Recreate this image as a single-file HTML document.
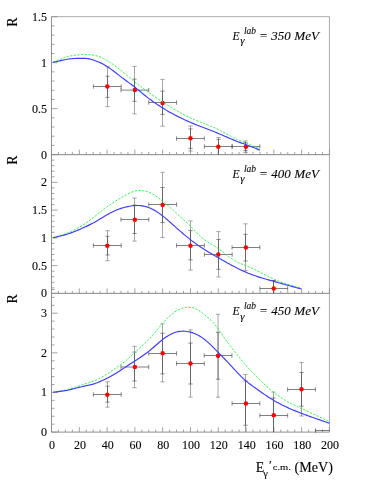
<!DOCTYPE html>
<html><head><meta charset="utf-8"><title>R vs E</title>
<style>
html,body{margin:0;padding:0;background:#fff;}
body{width:374px;height:484px;overflow:hidden;position:relative;font-family:"Liberation Serif",serif;}
</style></head><body>
<svg width="374" height="484" viewBox="0 0 374 484" style="display:block;position:absolute;left:0;top:0">
<rect x="0" y="0" width="374" height="484" fill="#fff"/>
<path d="M51.5 16.7 H329.45 V154.6" fill="none" stroke="#959595" stroke-width="0.8"/>
<path d="M51.5 16.7 V154.6 H329.45" fill="none" stroke="#7c7c7c" stroke-width="0.85"/>
<path d="M51.5 154.6h6M51.5 145.41h3M51.5 136.21h3M51.5 127.02h3M51.5 117.83h3M51.5 108.63h6M51.5 99.44h3M51.5 90.25h3M51.5 81.05h3M51.5 71.86h3M51.5 62.67h6M51.5 53.47h3M51.5 44.28h3M51.5 35.09h3M51.5 25.89h3M51.5 16.7h6" fill="none" stroke="#8c8c8c" stroke-width="0.8"/>
<path d="M51.5 154.6v-5M58.45 154.6v-2.6M65.4 154.6v-2.6M72.35 154.6v-2.6M79.3 154.6v-5M86.24 154.6v-2.6M93.19 154.6v-2.6M100.14 154.6v-2.6M107.09 154.6v-5M114.04 154.6v-2.6M120.99 154.6v-2.6M127.94 154.6v-2.6M134.88 154.6v-5M141.83 154.6v-2.6M148.78 154.6v-2.6M155.73 154.6v-2.6M162.68 154.6v-5M169.63 154.6v-2.6M176.58 154.6v-2.6M183.53 154.6v-2.6M190.47 154.6v-5M197.42 154.6v-2.6M204.37 154.6v-2.6M211.32 154.6v-2.6M218.27 154.6v-5M225.22 154.6v-2.6M232.17 154.6v-2.6M239.12 154.6v-2.6M246.06 154.6v-5M253.01 154.6v-2.6M259.96 154.6v-2.6M266.91 154.6v-2.6M273.86 154.6v-5M280.81 154.6v-2.6M287.76 154.6v-2.6M294.71 154.6v-2.6M301.65 154.6v-5M308.6 154.6v-2.6M315.55 154.6v-2.6M322.5 154.6v-2.6M329.45 154.6v-5" fill="none" stroke="#8c8c8c" stroke-width="0.8"/>
<path d="M51.5 154.6 H329.45 V293.4" fill="none" stroke="#959595" stroke-width="0.8"/>
<path d="M51.5 154.6 V293.4 H329.45" fill="none" stroke="#7c7c7c" stroke-width="0.85"/>
<path d="M51.5 293.4h6M51.5 287.85h3M51.5 282.3h3M51.5 276.74h3M51.5 271.19h3M51.5 265.64h6M51.5 260.09h3M51.5 254.54h3M51.5 248.98h3M51.5 243.43h3M51.5 237.88h6M51.5 232.33h3M51.5 226.78h3M51.5 221.22h3M51.5 215.67h3M51.5 210.12h6M51.5 204.57h3M51.5 199.02h3M51.5 193.46h3M51.5 187.91h3M51.5 182.36h6M51.5 176.81h3M51.5 171.26h3M51.5 165.7h3M51.5 160.15h3M51.5 154.6h6" fill="none" stroke="#8c8c8c" stroke-width="0.8"/>
<path d="M51.5 293.4v-5M58.45 293.4v-2.6M65.4 293.4v-2.6M72.35 293.4v-2.6M79.3 293.4v-5M86.24 293.4v-2.6M93.19 293.4v-2.6M100.14 293.4v-2.6M107.09 293.4v-5M114.04 293.4v-2.6M120.99 293.4v-2.6M127.94 293.4v-2.6M134.88 293.4v-5M141.83 293.4v-2.6M148.78 293.4v-2.6M155.73 293.4v-2.6M162.68 293.4v-5M169.63 293.4v-2.6M176.58 293.4v-2.6M183.53 293.4v-2.6M190.47 293.4v-5M197.42 293.4v-2.6M204.37 293.4v-2.6M211.32 293.4v-2.6M218.27 293.4v-5M225.22 293.4v-2.6M232.17 293.4v-2.6M239.12 293.4v-2.6M246.06 293.4v-5M253.01 293.4v-2.6M259.96 293.4v-2.6M266.91 293.4v-2.6M273.86 293.4v-5M280.81 293.4v-2.6M287.76 293.4v-2.6M294.71 293.4v-2.6M301.65 293.4v-5M308.6 293.4v-2.6M315.55 293.4v-2.6M322.5 293.4v-2.6M329.45 293.4v-5" fill="none" stroke="#8c8c8c" stroke-width="0.8"/>
<path d="M51.5 293.4 H329.45 V432.1" fill="none" stroke="#959595" stroke-width="0.8"/>
<path d="M51.5 293.4 V432.1 H329.45" fill="none" stroke="#7c7c7c" stroke-width="0.85"/>
<path d="M51.5 432.1h6M51.5 424.17h3M51.5 416.25h3M51.5 408.32h3M51.5 400.4h3M51.5 392.47h6M51.5 384.55h3M51.5 376.62h3M51.5 368.69h3M51.5 360.77h3M51.5 352.84h6M51.5 344.92h3M51.5 336.99h3M51.5 329.07h3M51.5 321.14h3M51.5 313.21h6M51.5 305.29h3M51.5 297.36h3M51.5 289.44h3" fill="none" stroke="#8c8c8c" stroke-width="0.8"/>
<path d="M51.5 432.1v-5M58.45 432.1v-2.6M65.4 432.1v-2.6M72.35 432.1v-2.6M79.3 432.1v-5M86.24 432.1v-2.6M93.19 432.1v-2.6M100.14 432.1v-2.6M107.09 432.1v-5M114.04 432.1v-2.6M120.99 432.1v-2.6M127.94 432.1v-2.6M134.88 432.1v-5M141.83 432.1v-2.6M148.78 432.1v-2.6M155.73 432.1v-2.6M162.68 432.1v-5M169.63 432.1v-2.6M176.58 432.1v-2.6M183.53 432.1v-2.6M190.47 432.1v-5M197.42 432.1v-2.6M204.37 432.1v-2.6M211.32 432.1v-2.6M218.27 432.1v-5M225.22 432.1v-2.6M232.17 432.1v-2.6M239.12 432.1v-2.6M246.06 432.1v-5M253.01 432.1v-2.6M259.96 432.1v-2.6M266.91 432.1v-2.6M273.86 432.1v-5M280.81 432.1v-2.6M287.76 432.1v-2.6M294.71 432.1v-2.6M301.65 432.1v-5M308.6 432.1v-2.6M315.55 432.1v-2.6M322.5 432.1v-2.6M329.45 432.1v-5" fill="none" stroke="#8c8c8c" stroke-width="0.8"/>
<path d="M107.5 66.8V106.7M134.5 66.4V113.9M162.5 79.4V126.2M190.5 126V151M218.5 137.5V154.6M245.5 140.9V152.5" fill="none" stroke="#6c6c6c" stroke-width="0.6"/>
<path d="M105.3 66.8h4.4M105.3 106.7h4.4M132.3 66.4h4.4M132.3 113.9h4.4M160.3 79.4h4.4M160.3 126.2h4.4M188.3 126h4.4M188.3 151h4.4M216.3 137.5h4.4M243.3 140.9h4.4M243.3 152.5h4.4" fill="none" stroke="#707070" stroke-width="0.6"/>
<path d="M107.5 76.2V97.4M134.5 79.1V101.3M162.5 91.1V114.4M190.5 128.9V148.4M218.5 139.4V154.6M245.5 142.7V150.6" fill="none" stroke="#3a3a3a" stroke-width="0.6"/>
<path d="M105.3 76.2h4.4M105.3 97.4h4.4M132.3 79.1h4.4M132.3 101.3h4.4M160.3 91.1h4.4M160.3 114.4h4.4M188.3 128.9h4.4M188.3 148.4h4.4M216.3 139.4h4.4M243.3 142.7h4.4M243.3 150.6h4.4" fill="none" stroke="#4a4a4a" stroke-width="0.6"/>
<path d="M93.4 86.5H121.2M120.95 90.1H148.75M148.75 102.5H176.55M176.55 138.5H204.35M204.4 146.5H232.2M232.05 146.5H259.85" fill="none" stroke="#2a2a2a" stroke-width="0.6"/>
<path d="M93.4 84.3v4.4M121.2 84.3v4.4M120.95 87.9v4.4M148.75 87.9v4.4M148.75 100.3v4.4M176.55 100.3v4.4M176.55 136.3v4.4M204.35 136.3v4.4M204.4 144.3v4.4M232.2 144.3v4.4M232.05 144.3v4.4M259.85 144.3v4.4" fill="none" stroke="#3a3a3a" stroke-width="0.6"/>
<circle cx="107.3" cy="86.6" r="2.25" fill="#ff0000"/>
<circle cx="134.85" cy="90.1" r="2.25" fill="#ff0000"/>
<circle cx="162.65" cy="102.9" r="2.25" fill="#ff0000"/>
<circle cx="190.45" cy="138.3" r="2.25" fill="#ff0000"/>
<circle cx="218.3" cy="146.7" r="2.25" fill="#ff0000"/>
<circle cx="245.95" cy="146.7" r="2.25" fill="#ff0000"/>
<path d="M107.5 230.7V260.7M134.5 198V241.1M162.5 172.3V237.5M190.5 221V270.1M218.5 231.6V277M245.5 223.8V270.6M273.5 280.5V293.4" fill="none" stroke="#6c6c6c" stroke-width="0.6"/>
<path d="M105.3 230.7h4.4M105.3 260.7h4.4M132.3 198h4.4M132.3 241.1h4.4M160.3 172.3h4.4M160.3 237.5h4.4M188.3 221h4.4M188.3 270.1h4.4M216.3 231.6h4.4M216.3 277h4.4M243.3 223.8h4.4M243.3 270.6h4.4M271.3 280.5h4.4" fill="none" stroke="#707070" stroke-width="0.6"/>
<path d="M107.5 236.3V255M134.5 205.1V233.5M162.5 187.5V222.6M190.5 230.6V259.9M218.5 239.5V269.3M245.5 234.3V261M273.5 280.5V293.4" fill="none" stroke="#3a3a3a" stroke-width="0.6"/>
<path d="M105.3 236.3h4.4M105.3 255h4.4M132.3 205.1h4.4M132.3 233.5h4.4M160.3 187.5h4.4M160.3 222.6h4.4M188.3 230.6h4.4M188.3 259.9h4.4M216.3 239.5h4.4M216.3 269.3h4.4M243.3 234.3h4.4M243.3 261h4.4M271.3 280.5h4.4" fill="none" stroke="#4a4a4a" stroke-width="0.6"/>
<path d="M93.4 245.5H121.2M120.95 219.5H148.75M148.75 204.5H176.55M176.55 245.5H204.35M204.4 254.5H232.2M232.05 247.5H259.85M259.85 288.5H287.65" fill="none" stroke="#2a2a2a" stroke-width="0.6"/>
<path d="M93.4 243.3v4.4M121.2 243.3v4.4M120.95 217.3v4.4M148.75 217.3v4.4M148.75 202.3v4.4M176.55 202.3v4.4M176.55 243.3v4.4M204.35 243.3v4.4M204.4 252.3v4.4M232.2 252.3v4.4M232.05 245.3v4.4M259.85 245.3v4.4M259.85 286.3v4.4M287.65 286.3v4.4" fill="none" stroke="#3a3a3a" stroke-width="0.6"/>
<circle cx="107.3" cy="245.7" r="2.25" fill="#ff0000"/>
<circle cx="134.85" cy="219.7" r="2.25" fill="#ff0000"/>
<circle cx="162.65" cy="204.9" r="2.25" fill="#ff0000"/>
<circle cx="190.45" cy="245.7" r="2.25" fill="#ff0000"/>
<circle cx="218.3" cy="254.6" r="2.25" fill="#ff0000"/>
<circle cx="245.95" cy="247.6" r="2.25" fill="#ff0000"/>
<circle cx="273.75" cy="288.5" r="2.25" fill="#ff0000"/>
<path d="M107.5 381.8V407.2M134.5 346.3V387.7M162.5 323.9V381.9M190.5 329.8V397.1M218.05 314.3V397.2M245.5 374.6V432.1M273.5 392.1V432.1M301.5 362.5V416" fill="none" stroke="#6c6c6c" stroke-width="0.6"/>
<path d="M105.3 381.8h4.4M105.3 407.2h4.4M132.3 346.3h4.4M132.3 387.7h4.4M160.3 323.9h4.4M160.3 381.9h4.4M188.3 329.8h4.4M188.3 397.1h4.4M215.85 314.3h4.4M215.85 397.2h4.4M243.3 374.6h4.4M271.3 392.1h4.4M299.3 362.5h4.4M299.3 416h4.4" fill="none" stroke="#707070" stroke-width="0.6"/>
<path d="M107.5 386.1V402.1M134.5 352.1V381M162.5 333.2V373.9M190.5 343.1V384M218.05 332.4V379.2M245.5 380.8V425.3M273.5 398V432.1M301.5 372.5V406.2" fill="none" stroke="#3a3a3a" stroke-width="0.6"/>
<path d="M105.3 386.1h4.4M105.3 402.1h4.4M132.3 352.1h4.4M132.3 381h4.4M160.3 333.2h4.4M160.3 373.9h4.4M188.3 343.1h4.4M188.3 384h4.4M215.85 332.4h4.4M215.85 379.2h4.4M243.3 380.8h4.4M243.3 425.3h4.4M271.3 398h4.4M299.3 372.5h4.4M299.3 406.2h4.4" fill="none" stroke="#4a4a4a" stroke-width="0.6"/>
<path d="M93.4 394.5H121.2M120.95 367H148.75M148.75 353.5H176.55M176.55 363.5H204.35M204.15 355.5H231.95M232.05 403.5H259.85M259.85 415.5H287.65M287.6 389.5H315.4M315.5 430.5H329.45" fill="none" stroke="#2a2a2a" stroke-width="0.6"/>
<path d="M93.4 392.3v4.4M121.2 392.3v4.4M120.95 364.8v4.4M148.75 364.8v4.4M148.75 351.3v4.4M176.55 351.3v4.4M176.55 361.3v4.4M204.35 361.3v4.4M204.15 353.3v4.4M231.95 353.3v4.4M232.05 401.3v4.4M259.85 401.3v4.4M259.85 413.3v4.4M287.65 413.3v4.4M287.6 387.3v4.4M315.4 387.3v4.4M315.5 428.3v4.4" fill="none" stroke="#3a3a3a" stroke-width="0.6"/>
<circle cx="107.3" cy="394.7" r="2.25" fill="#ff0000"/>
<circle cx="134.85" cy="367" r="2.25" fill="#ff0000"/>
<circle cx="162.65" cy="353.3" r="2.25" fill="#ff0000"/>
<circle cx="190.45" cy="363.4" r="2.25" fill="#ff0000"/>
<circle cx="218.05" cy="355.8" r="2.25" fill="#ff0000"/>
<circle cx="245.95" cy="403.4" r="2.25" fill="#ff0000"/>
<circle cx="273.75" cy="415.2" r="2.25" fill="#ff0000"/>
<circle cx="301.5" cy="389.2" r="2.25" fill="#ff0000"/>
<path d="M53 62.1 L54.3 61.61 L55.6 61.11 L56.9 60.61 L58.19 60.11 L59.49 59.6 L60.79 59.08 L62.09 58.56 L63.39 58.06 L64.69 57.57 L65.99 57.13 L67.29 56.74 L68.58 56.4 L69.88 56.1 L71.18 55.84 L72.48 55.62 L73.78 55.42 L75.08 55.24 L76.38 55.08 L77.68 54.93 L78.97 54.8 L80.27 54.69 L81.57 54.59 L82.87 54.5 L84.17 54.43 L85.47 54.4 L86.77 54.41 L88.07 54.46 L89.36 54.56 L90.66 54.7 L91.96 54.88 L93.26 55.1 L94.56 55.36 L95.86 55.67 L97.16 56.03 L98.46 56.44 L99.75 56.91 L101.05 57.43 L102.35 58 L103.65 58.63 L104.95 59.3 L106.25 60.02 L107.55 60.79 L108.85 61.59 L110.14 62.43 L111.44 63.31 L112.74 64.22 L114.04 65.15 L115.34 66.12 L116.64 67.1 L117.94 68.1 L119.24 69.13 L120.53 70.16 L121.83 71.21 L123.13 72.26 L124.43 73.33 L125.73 74.39 L127.03 75.47 L128.33 76.54 L129.63 77.61 L130.92 78.68 L132.22 79.75 L133.52 80.82 L134.82 81.87 L136.12 82.92 L137.42 83.96 L138.72 84.99 L140.02 86.01 L141.31 87.01 L142.61 88.01 L143.91 88.99 L145.21 89.96 L146.51 90.91 L147.81 91.85 L149.11 92.77 L150.41 93.69 L151.7 94.59 L153 95.48 L154.3 96.36 L155.6 97.24 L156.9 98.1 L158.2 98.96 L159.5 99.82 L160.8 100.66 L162.09 101.51 L163.39 102.35 L164.69 103.19 L165.99 104.02 L167.29 104.85 L168.59 105.67 L169.89 106.48 L171.19 107.29 L172.48 108.09 L173.78 108.88 L175.08 109.67 L176.38 110.44 L177.68 111.2 L178.98 111.95 L180.28 112.69 L181.58 113.41 L182.87 114.12 L184.17 114.81 L185.47 115.49 L186.77 116.16 L188.07 116.8 L189.37 117.43 L190.67 118.04 L191.97 118.63 L193.26 119.2 L194.56 119.76 L195.86 120.3 L197.16 120.83 L198.46 121.36 L199.76 121.87 L201.06 122.38 L202.36 122.89 L203.65 123.39 L204.95 123.9 L206.25 124.4 L207.55 124.91 L208.85 125.43 L210.15 125.96 L211.45 126.5 L212.75 127.05 L214.04 127.61 L215.34 128.19 L216.64 128.79 L217.94 129.41 L219.24 130.05 L220.54 130.71 L221.84 131.39 L223.14 132.07 L224.43 132.76 L225.73 133.46 L227.03 134.16 L228.33 134.86 L229.63 135.56 L230.93 136.25 L232.23 136.93 L233.53 137.59 L234.82 138.24 L236.12 138.87 L237.42 139.48 L238.72 140.06 L240.02 140.61 L241.32 141.13 L242.62 141.63 L243.92 142.12 L245.21 142.61 L246.51 143.12 L247.81 143.63 L249.11 144.16 L250.41 144.7 L251.71 145.26 L253.01 145.82 L254.31 146.38 L255.6 146.96 L256.9 147.54 L258.2 148.12 L259.5 148.7" fill="none" stroke="#28f048" stroke-width="0.95" stroke-dasharray="2.2 1.45"/>
<path d="M53 237.7 L54.56 237.25 L56.12 236.79 L57.68 236.33 L59.25 235.86 L60.81 235.37 L62.37 234.85 L63.93 234.32 L65.49 233.76 L67.05 233.16 L68.62 232.53 L70.18 231.87 L71.74 231.16 L73.3 230.42 L74.86 229.64 L76.42 228.83 L77.99 227.97 L79.55 227.08 L81.11 226.14 L82.67 225.18 L84.23 224.17 L85.79 223.13 L87.36 222.06 L88.92 220.96 L90.48 219.82 L92.04 218.65 L93.6 217.45 L95.16 216.21 L96.73 214.94 L98.29 213.66 L99.85 212.38 L101.41 211.11 L102.97 209.87 L104.53 208.67 L106.1 207.52 L107.66 206.41 L109.22 205.33 L110.78 204.28 L112.34 203.24 L113.9 202.21 L115.47 201.2 L117.03 200.21 L118.59 199.24 L120.15 198.29 L121.71 197.38 L123.27 196.48 L124.84 195.6 L126.4 194.75 L127.96 193.92 L129.52 193.15 L131.08 192.44 L132.64 191.82 L134.21 191.31 L135.77 190.92 L137.33 190.66 L138.89 190.52 L140.45 190.49 L142.01 190.58 L143.57 190.78 L145.14 191.08 L146.7 191.5 L148.26 192.02 L149.82 192.65 L151.38 193.39 L152.94 194.23 L154.51 195.17 L156.07 196.2 L157.63 197.3 L159.19 198.46 L160.75 199.67 L162.31 200.92 L163.88 202.21 L165.44 203.51 L167 204.84 L168.56 206.19 L170.12 207.55 L171.68 208.93 L173.25 210.32 L174.81 211.71 L176.37 213.11 L177.93 214.52 L179.49 215.92 L181.05 217.34 L182.62 218.76 L184.18 220.21 L185.74 221.67 L187.3 223.16 L188.86 224.67 L190.42 226.22 L191.99 227.81 L193.55 229.41 L195.11 231.01 L196.67 232.6 L198.23 234.15 L199.79 235.65 L201.36 237.08 L202.92 238.43 L204.48 239.66 L206.04 240.8 L207.6 241.85 L209.16 242.85 L210.73 243.8 L212.29 244.74 L213.85 245.68 L215.41 246.64 L216.97 247.64 L218.53 248.7 L220.09 249.84 L221.66 251.02 L223.22 252.25 L224.78 253.49 L226.34 254.74 L227.9 255.97 L229.46 257.17 L231.03 258.32 L232.59 259.4 L234.15 260.4 L235.71 261.29 L237.27 262.09 L238.83 262.8 L240.4 263.46 L241.96 264.08 L243.52 264.67 L245.08 265.28 L246.64 265.9 L248.2 266.56 L249.77 267.25 L251.33 267.97 L252.89 268.71 L254.45 269.47 L256.01 270.25 L257.57 271.04 L259.14 271.83 L260.7 272.64 L262.26 273.44 L263.82 274.24 L265.38 275.04 L266.94 275.83 L268.51 276.61 L270.07 277.37 L271.63 278.11 L273.19 278.83 L274.75 279.52 L276.31 280.18 L277.88 280.82 L279.44 281.43 L281 282.02 L282.56 282.6 L284.12 283.15 L285.68 283.68 L287.25 284.2 L288.81 284.7 L290.37 285.19 L291.93 285.67 L293.49 286.14 L295.05 286.6 L296.62 287.06 L298.18 287.51 L299.74 287.95 L301.3 288.4" fill="none" stroke="#28f048" stroke-width="0.95" stroke-dasharray="2.2 1.45"/>
<path d="M53 392.1 L54.74 391.86 L56.48 391.61 L58.22 391.35 L59.95 391.08 L61.69 390.78 L63.43 390.45 L65.17 390.08 L66.91 389.68 L68.65 389.23 L70.39 388.73 L72.13 388.19 L73.86 387.63 L75.6 387.05 L77.34 386.46 L79.08 385.87 L80.82 385.29 L82.56 384.73 L84.3 384.18 L86.03 383.64 L87.77 383.09 L89.51 382.53 L91.25 381.93 L92.99 381.3 L94.73 380.61 L96.47 379.87 L98.21 379.06 L99.94 378.19 L101.68 377.26 L103.42 376.28 L105.16 375.23 L106.9 374.14 L108.64 372.99 L110.38 371.81 L112.12 370.61 L113.85 369.39 L115.59 368.17 L117.33 366.95 L119.07 365.74 L120.81 364.51 L122.55 363.24 L124.29 361.92 L126.02 360.51 L127.76 359.02 L129.5 357.42 L131.24 355.78 L132.98 354.11 L134.72 352.46 L136.46 350.87 L138.2 349.32 L139.93 347.8 L141.67 346.28 L143.41 344.73 L145.15 343.15 L146.89 341.49 L148.63 339.75 L150.37 337.9 L152.1 335.93 L153.84 333.87 L155.58 331.76 L157.32 329.61 L159.06 327.48 L160.8 325.38 L162.54 323.35 L164.28 321.41 L166.01 319.55 L167.75 317.8 L169.49 316.16 L171.23 314.64 L172.97 313.26 L174.71 312.01 L176.45 310.91 L178.18 309.94 L179.92 309.12 L181.66 308.45 L183.4 307.92 L185.14 307.54 L186.88 307.3 L188.62 307.2 L190.36 307.25 L192.09 307.47 L193.83 307.91 L195.57 308.6 L197.31 309.53 L199.05 310.65 L200.79 311.9 L202.53 313.24 L204.27 314.6 L206 315.96 L207.74 317.38 L209.48 318.88 L211.22 320.51 L212.96 322.3 L214.7 324.29 L216.44 326.5 L218.17 328.88 L219.91 331.36 L221.65 333.9 L223.39 336.44 L225.13 338.92 L226.87 341.32 L228.61 343.66 L230.35 345.96 L232.08 348.24 L233.82 350.5 L235.56 352.75 L237.3 354.96 L239.04 357.14 L240.78 359.28 L242.52 361.38 L244.25 363.43 L245.99 365.42 L247.73 367.35 L249.47 369.23 L251.21 371.08 L252.95 372.89 L254.69 374.68 L256.43 376.46 L258.16 378.22 L259.9 379.96 L261.64 381.68 L263.38 383.37 L265.12 385.02 L266.86 386.64 L268.6 388.2 L270.33 389.72 L272.07 391.17 L273.81 392.57 L275.55 393.9 L277.29 395.16 L279.03 396.37 L280.77 397.52 L282.51 398.63 L284.24 399.69 L285.98 400.7 L287.72 401.68 L289.46 402.62 L291.2 403.53 L292.94 404.42 L294.68 405.29 L296.42 406.13 L298.15 406.97 L299.89 407.79 L301.63 408.61 L303.37 409.42 L305.11 410.24 L306.85 411.05 L308.59 411.86 L310.32 412.67 L312.06 413.48 L313.8 414.28 L315.54 415.09 L317.28 415.89 L319.02 416.69 L320.76 417.5 L322.5 418.3 L324.23 419.1 L325.97 419.9 L327.71 420.7 L329.45 421.5" fill="none" stroke="#28f048" stroke-width="0.95" stroke-dasharray="2.2 1.45"/>
<path d="M53 62.3 L54.3 62.03 L55.6 61.76 L56.9 61.48 L58.21 61.2 L59.51 60.91 L60.81 60.62 L62.11 60.32 L63.41 60.02 L64.71 59.74 L66.01 59.47 L67.31 59.24 L68.62 59.03 L69.92 58.85 L71.22 58.7 L72.52 58.59 L73.82 58.5 L75.12 58.45 L76.42 58.42 L77.72 58.41 L79.03 58.41 L80.33 58.41 L81.63 58.4 L82.93 58.38 L84.23 58.37 L85.53 58.4 L86.83 58.48 L88.13 58.65 L89.44 58.91 L90.74 59.24 L92.04 59.63 L93.34 60.05 L94.64 60.49 L95.94 60.95 L97.24 61.44 L98.54 61.96 L99.85 62.53 L101.15 63.14 L102.45 63.8 L103.75 64.5 L105.05 65.24 L106.35 66.03 L107.65 66.87 L108.95 67.74 L110.26 68.65 L111.56 69.6 L112.86 70.57 L114.16 71.56 L115.46 72.56 L116.76 73.57 L118.06 74.59 L119.36 75.6 L120.67 76.61 L121.97 77.6 L123.27 78.58 L124.57 79.54 L125.87 80.5 L127.17 81.45 L128.47 82.4 L129.77 83.36 L131.08 84.32 L132.38 85.3 L133.68 86.29 L134.98 87.3 L136.28 88.34 L137.58 89.4 L138.88 90.47 L140.18 91.54 L141.49 92.62 L142.79 93.7 L144.09 94.76 L145.39 95.81 L146.69 96.84 L147.99 97.85 L149.29 98.84 L150.59 99.81 L151.9 100.76 L153.2 101.69 L154.5 102.61 L155.8 103.5 L157.1 104.39 L158.4 105.25 L159.7 106.1 L161 106.94 L162.31 107.75 L163.61 108.56 L164.91 109.35 L166.21 110.13 L167.51 110.89 L168.81 111.64 L170.11 112.38 L171.41 113.1 L172.72 113.81 L174.02 114.51 L175.32 115.2 L176.62 115.87 L177.92 116.54 L179.22 117.19 L180.52 117.83 L181.82 118.45 L183.13 119.07 L184.43 119.68 L185.73 120.27 L187.03 120.86 L188.33 121.44 L189.63 122 L190.93 122.56 L192.23 123.1 L193.54 123.64 L194.84 124.17 L196.14 124.69 L197.44 125.21 L198.74 125.73 L200.04 126.23 L201.34 126.74 L202.64 127.24 L203.95 127.74 L205.25 128.25 L206.55 128.75 L207.85 129.25 L209.15 129.75 L210.45 130.26 L211.75 130.77 L213.05 131.29 L214.36 131.81 L215.66 132.34 L216.96 132.87 L218.26 133.42 L219.56 133.97 L220.86 134.53 L222.16 135.09 L223.46 135.66 L224.77 136.22 L226.07 136.79 L227.37 137.36 L228.67 137.92 L229.97 138.48 L231.27 139.04 L232.57 139.58 L233.87 140.12 L235.18 140.65 L236.48 141.17 L237.78 141.67 L239.08 142.16 L240.38 142.64 L241.68 143.1 L242.98 143.55 L244.28 144 L245.59 144.46 L246.89 144.93 L248.19 145.42 L249.49 145.92 L250.79 146.43 L252.09 146.95 L253.39 147.48 L254.69 148.01 L256 148.56 L257.3 149.1 L258.6 149.65 L259.9 150.2" fill="none" stroke="#3c3cff" stroke-width="1.15"/>
<path d="M53 237.7 L54.56 237.36 L56.12 237.01 L57.68 236.66 L59.25 236.3 L60.81 235.92 L62.37 235.52 L63.93 235.1 L65.49 234.66 L67.05 234.19 L68.62 233.69 L70.18 233.16 L71.74 232.6 L73.3 232.01 L74.86 231.4 L76.42 230.77 L77.99 230.11 L79.55 229.44 L81.11 228.75 L82.67 228.05 L84.23 227.34 L85.79 226.62 L87.36 225.89 L88.92 225.14 L90.48 224.38 L92.04 223.58 L93.6 222.76 L95.16 221.89 L96.73 220.99 L98.29 220.06 L99.85 219.1 L101.41 218.14 L102.97 217.18 L104.53 216.24 L106.1 215.32 L107.66 214.43 L109.22 213.56 L110.78 212.73 L112.34 211.93 L113.9 211.16 L115.47 210.45 L117.03 209.78 L118.59 209.18 L120.15 208.63 L121.71 208.14 L123.27 207.7 L124.84 207.29 L126.4 206.91 L127.96 206.57 L129.52 206.27 L131.08 206.01 L132.64 205.79 L134.21 205.63 L135.77 205.53 L137.33 205.49 L138.89 205.53 L140.45 205.65 L142.01 205.84 L143.57 206.11 L145.14 206.47 L146.7 206.91 L148.26 207.44 L149.82 208.05 L151.38 208.74 L152.94 209.52 L154.51 210.37 L156.07 211.29 L157.63 212.29 L159.19 213.35 L160.75 214.47 L162.31 215.64 L163.88 216.88 L165.44 218.16 L167 219.48 L168.56 220.83 L170.12 222.21 L171.68 223.6 L173.25 225.01 L174.81 226.41 L176.37 227.82 L177.93 229.2 L179.49 230.58 L181.05 231.94 L182.62 233.27 L184.18 234.59 L185.74 235.89 L187.3 237.16 L188.86 238.42 L190.42 239.64 L191.99 240.84 L193.55 242.01 L195.11 243.16 L196.67 244.28 L198.23 245.38 L199.79 246.45 L201.36 247.5 L202.92 248.52 L204.48 249.52 L206.04 250.5 L207.6 251.46 L209.16 252.4 L210.73 253.33 L212.29 254.25 L213.85 255.16 L215.41 256.06 L216.97 256.95 L218.53 257.85 L220.09 258.74 L221.66 259.64 L223.22 260.53 L224.78 261.41 L226.34 262.29 L227.9 263.16 L229.46 264.02 L231.03 264.88 L232.59 265.72 L234.15 266.54 L235.71 267.36 L237.27 268.15 L238.83 268.93 L240.4 269.69 L241.96 270.43 L243.52 271.15 L245.08 271.85 L246.64 272.52 L248.2 273.16 L249.77 273.78 L251.33 274.38 L252.89 274.96 L254.45 275.52 L256.01 276.06 L257.57 276.58 L259.14 277.09 L260.7 277.59 L262.26 278.07 L263.82 278.55 L265.38 279.01 L266.94 279.46 L268.51 279.91 L270.07 280.35 L271.63 280.79 L273.19 281.23 L274.75 281.67 L276.31 282.1 L277.88 282.53 L279.44 282.97 L281 283.4 L282.56 283.83 L284.12 284.26 L285.68 284.7 L287.25 285.13 L288.81 285.56 L290.37 285.99 L291.93 286.42 L293.49 286.85 L295.05 287.28 L296.62 287.71 L298.18 288.14 L299.74 288.57 L301.3 289" fill="none" stroke="#3c3cff" stroke-width="1.15"/>
<path d="M53 392.2 L54.74 392.01 L56.48 391.82 L58.22 391.63 L59.95 391.41 L61.69 391.18 L63.43 390.92 L65.17 390.64 L66.91 390.32 L68.65 389.96 L70.39 389.57 L72.13 389.15 L73.86 388.71 L75.6 388.26 L77.34 387.81 L79.08 387.36 L80.82 386.94 L82.56 386.54 L84.3 386.16 L86.03 385.79 L87.77 385.41 L89.51 385.02 L91.25 384.59 L92.99 384.12 L94.73 383.59 L96.47 382.99 L98.21 382.33 L99.94 381.6 L101.68 380.83 L103.42 380.02 L105.16 379.17 L106.9 378.3 L108.64 377.4 L110.38 376.47 L112.12 375.51 L113.85 374.52 L115.59 373.49 L117.33 372.42 L119.07 371.31 L120.81 370.18 L122.55 369.03 L124.29 367.87 L126.02 366.71 L127.76 365.56 L129.5 364.43 L131.24 363.31 L132.98 362.2 L134.72 361.08 L136.46 359.96 L138.2 358.83 L139.93 357.68 L141.67 356.5 L143.41 355.29 L145.15 354.04 L146.89 352.75 L148.63 351.4 L150.37 350 L152.1 348.54 L153.84 347.03 L155.58 345.51 L157.32 343.98 L159.06 342.48 L160.8 341.01 L162.54 339.61 L164.28 338.28 L166.01 337.04 L167.75 335.91 L169.49 334.88 L171.23 333.98 L172.97 333.21 L174.71 332.56 L176.45 332.04 L178.18 331.65 L179.92 331.37 L181.66 331.22 L183.4 331.18 L185.14 331.26 L186.88 331.45 L188.62 331.74 L190.36 332.14 L192.09 332.63 L193.83 333.23 L195.57 333.94 L197.31 334.75 L199.05 335.68 L200.79 336.72 L202.53 337.89 L204.27 339.18 L206 340.59 L207.74 342.11 L209.48 343.7 L211.22 345.36 L212.96 347.06 L214.7 348.8 L216.44 350.55 L218.17 352.31 L219.91 354.09 L221.65 355.88 L223.39 357.69 L225.13 359.51 L226.87 361.35 L228.61 363.2 L230.35 365.07 L232.08 366.95 L233.82 368.84 L235.56 370.7 L237.3 372.55 L239.04 374.36 L240.78 376.12 L242.52 377.81 L244.25 379.43 L245.99 380.97 L247.73 382.41 L249.47 383.77 L251.21 385.07 L252.95 386.34 L254.69 387.58 L256.43 388.81 L258.16 390.04 L259.9 391.27 L261.64 392.49 L263.38 393.69 L265.12 394.87 L266.86 396.04 L268.6 397.18 L270.33 398.29 L272.07 399.38 L273.81 400.43 L275.55 401.44 L277.29 402.42 L279.03 403.36 L280.77 404.27 L282.51 405.16 L284.24 406.01 L285.98 406.84 L287.72 407.64 L289.46 408.42 L291.2 409.18 L292.94 409.92 L294.68 410.64 L296.42 411.35 L298.15 412.04 L299.89 412.72 L301.63 413.39 L303.37 414.05 L305.11 414.7 L306.85 415.34 L308.59 415.97 L310.32 416.6 L312.06 417.22 L313.8 417.83 L315.54 418.44 L317.28 419.05 L319.02 419.65 L320.76 420.25 L322.5 420.84 L324.23 421.43 L325.97 422.02 L327.71 422.61 L329.45 423.2" fill="none" stroke="#3c3cff" stroke-width="1.15"/>
<g opacity="0.99" stroke="#111" stroke-width="0.12">
<text x="47" y="158.6" style="font-family:'Liberation Serif',serif" font-size="12" text-anchor="end" fill="#000">0</text>
<text x="47" y="112.63" style="font-family:'Liberation Serif',serif" font-size="12" text-anchor="end" fill="#000">0.5</text>
<text x="47" y="66.67" style="font-family:'Liberation Serif',serif" font-size="12" text-anchor="end" fill="#000">1</text>
<text x="47" y="20.7" style="font-family:'Liberation Serif',serif" font-size="12" text-anchor="end" fill="#000">1.5</text>
<text x="47" y="297.4" style="font-family:'Liberation Serif',serif" font-size="12" text-anchor="end" fill="#000">0</text>
<text x="47" y="269.64" style="font-family:'Liberation Serif',serif" font-size="12" text-anchor="end" fill="#000">0.5</text>
<text x="47" y="241.88" style="font-family:'Liberation Serif',serif" font-size="12" text-anchor="end" fill="#000">1</text>
<text x="47" y="214.12" style="font-family:'Liberation Serif',serif" font-size="12" text-anchor="end" fill="#000">1.5</text>
<text x="47" y="186.36" style="font-family:'Liberation Serif',serif" font-size="12" text-anchor="end" fill="#000">2</text>
<text x="47" y="436.1" style="font-family:'Liberation Serif',serif" font-size="12" text-anchor="end" fill="#000">0</text>
<text x="47" y="396.47" style="font-family:'Liberation Serif',serif" font-size="12" text-anchor="end" fill="#000">1</text>
<text x="47" y="356.84" style="font-family:'Liberation Serif',serif" font-size="12" text-anchor="end" fill="#000">2</text>
<text x="47" y="317.21" style="font-family:'Liberation Serif',serif" font-size="12" text-anchor="end" fill="#000">3</text>
<text x="52.1" y="448.8" style="font-family:'Liberation Serif',serif" font-size="12" text-anchor="middle" fill="#000">0</text>
<text x="79.89" y="448.8" style="font-family:'Liberation Serif',serif" font-size="12" text-anchor="middle" fill="#000">20</text>
<text x="107.69" y="448.8" style="font-family:'Liberation Serif',serif" font-size="12" text-anchor="middle" fill="#000">40</text>
<text x="135.48" y="448.8" style="font-family:'Liberation Serif',serif" font-size="12" text-anchor="middle" fill="#000">60</text>
<text x="163.28" y="448.8" style="font-family:'Liberation Serif',serif" font-size="12" text-anchor="middle" fill="#000">80</text>
<text x="191.07" y="448.8" style="font-family:'Liberation Serif',serif" font-size="12" text-anchor="middle" fill="#000">100</text>
<text x="218.87" y="448.8" style="font-family:'Liberation Serif',serif" font-size="12" text-anchor="middle" fill="#000">120</text>
<text x="246.66" y="448.8" style="font-family:'Liberation Serif',serif" font-size="12" text-anchor="middle" fill="#000">140</text>
<text x="274.46" y="448.8" style="font-family:'Liberation Serif',serif" font-size="12" text-anchor="middle" fill="#000">160</text>
<text x="302.25" y="448.8" style="font-family:'Liberation Serif',serif" font-size="12" text-anchor="middle" fill="#000">180</text>
<text x="330.05" y="448.8" style="font-family:'Liberation Serif',serif" font-size="12" text-anchor="middle" fill="#000">200</text>
<text transform="translate(16.6 17.4) rotate(-90)" style="font-family:'Liberation Serif',serif" font-size="14" text-anchor="end" fill="#000">R</text>
<text transform="translate(16.6 155.3) rotate(-90)" style="font-family:'Liberation Serif',serif" font-size="14" text-anchor="end" fill="#000">R</text>
<text transform="translate(16.6 294.1) rotate(-90)" style="font-family:'Liberation Serif',serif" font-size="14" text-anchor="end" fill="#000">R</text>
<text transform="translate(255.7 471.6) scale(1.000 1)" style="font-family:'Liberation Serif',serif;font-size:14px;" fill="#000">E</text>
<text transform="translate(263.2 476.6) scale(1.000 1)" style="font-family:'Liberation Serif',serif;font-size:10.5px;" fill="#000">γ</text>
<text transform="translate(268.9 469) scale(1.000 1)" style="font-family:'Liberation Serif',serif;font-size:13px;" fill="#000">′</text>
<text transform="translate(272.8 470) scale(1.175 1)" style="font-family:'Liberation Serif',serif;font-size:9px;" fill="#000">c.m.</text>
<text transform="translate(294.5 471.6) scale(1.010 1)" style="font-family:'Liberation Serif',serif;font-size:14px;" fill="#000">(MeV)</text>
<text transform="translate(232.4 39.7) scale(0.880 1)" style="font-family:'Liberation Serif',serif;font-size:13.2px;font-style:italic;" fill="#000">E</text>
<text transform="translate(240.2 44.3) scale(1.000 1)" style="font-family:'Liberation Serif',serif;font-size:11px;font-style:italic;" fill="#000">γ</text>
<text transform="translate(243.9 33.8) scale(0.950 1)" style="font-family:'Liberation Serif',serif;font-size:10px;font-style:italic;" fill="#000">lab</text>
<text transform="translate(259 39.7) scale(1.000 1)" style="font-family:'Liberation Serif',serif;font-size:13.2px;font-style:italic;" fill="#000">=</text>
<text transform="translate(271.3 39.7) scale(0.985 1)" style="font-family:'Liberation Serif',serif;font-size:13.2px;font-style:italic;" fill="#000">350</text>
<text transform="translate(294.2 39.7) scale(1.000 1)" style="font-family:'Liberation Serif',serif;font-size:13.2px;font-style:italic;" fill="#000">MeV</text>
<text transform="translate(232.4 177.7) scale(0.880 1)" style="font-family:'Liberation Serif',serif;font-size:13.2px;font-style:italic;" fill="#000">E</text>
<text transform="translate(240.2 182.3) scale(1.000 1)" style="font-family:'Liberation Serif',serif;font-size:11px;font-style:italic;" fill="#000">γ</text>
<text transform="translate(243.9 171.8) scale(0.950 1)" style="font-family:'Liberation Serif',serif;font-size:10px;font-style:italic;" fill="#000">lab</text>
<text transform="translate(259 177.7) scale(1.000 1)" style="font-family:'Liberation Serif',serif;font-size:13.2px;font-style:italic;" fill="#000">=</text>
<text transform="translate(271.3 177.7) scale(0.985 1)" style="font-family:'Liberation Serif',serif;font-size:13.2px;font-style:italic;" fill="#000">400</text>
<text transform="translate(294.2 177.7) scale(1.000 1)" style="font-family:'Liberation Serif',serif;font-size:13.2px;font-style:italic;" fill="#000">MeV</text>
<text transform="translate(232.4 315.2) scale(0.880 1)" style="font-family:'Liberation Serif',serif;font-size:13.2px;font-style:italic;" fill="#000">E</text>
<text transform="translate(240.2 319.8) scale(1.000 1)" style="font-family:'Liberation Serif',serif;font-size:11px;font-style:italic;" fill="#000">γ</text>
<text transform="translate(243.9 309.3) scale(0.950 1)" style="font-family:'Liberation Serif',serif;font-size:10px;font-style:italic;" fill="#000">lab</text>
<text transform="translate(259 315.2) scale(1.000 1)" style="font-family:'Liberation Serif',serif;font-size:13.2px;font-style:italic;" fill="#000">=</text>
<text transform="translate(271.3 315.2) scale(0.985 1)" style="font-family:'Liberation Serif',serif;font-size:13.2px;font-style:italic;" fill="#000">450</text>
<text transform="translate(294.2 315.2) scale(1.000 1)" style="font-family:'Liberation Serif',serif;font-size:13.2px;font-style:italic;" fill="#000">MeV</text>
</g>
</svg>
</body></html>
